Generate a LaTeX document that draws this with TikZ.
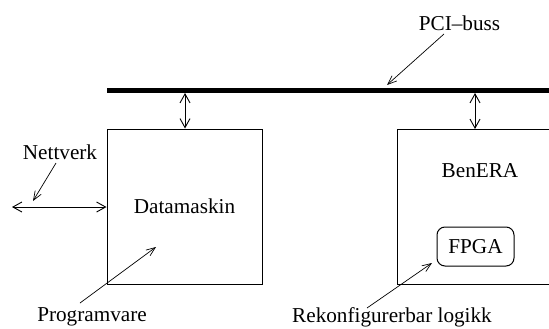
\documentclass[tikz,border=0pt]{standalone}
\usepackage{fontspec}
\setmainfont{Liberation Serif}
\usetikzlibrary{arrows.meta}
\begin{document}
\begin{tikzpicture}[x=1pt,y=-1pt,
  lbl/.style={inner sep=0pt, font=\fontsize{21.2}{24}\selectfont},
  boxline/.style={line width=1pt},
  dbl/.style={line width=0.9pt, {Straight Barb[length=9pt,width=10pt]}-{Straight Barb[length=9pt,width=10pt]}},
  ptr/.style={line width=0.7pt, -{Straight Barb[length=9pt,width=7pt]}},
  bus/.style={line width=5pt}]
\useasboundingbox (0,0) rectangle (549,329);
% bus
\coordinate (busL) at (107,90.5);
\coordinate (busR) at (549,90.5);
\draw[bus] (busL) -- (busR);
% left box
\node[boxline, draw, minimum width=155pt, minimum height=155pt, lbl, inner sep=0pt] (dm) at (184.5,206.5) {Datamaskin};
% right box (runs off the right edge)
\coordinate (rbTR) at (549,129);
\coordinate (rbTL) at (397,129);
\coordinate (rbBL) at (397,284);
\coordinate (rbBR) at (549,284);
\draw[boxline] (rbTR) -- (rbTL) -- (rbBL) -- (rbBR);
\node[lbl] (ben) at (480,171) {BenERA};
\node[draw, boxline, rounded corners=8pt, minimum width=77pt, minimum height=39pt, lbl] (fpga) at (475.5,246.5) {FPGA};
% bus connections
\coordinate (b1) at (185,93);
\coordinate (b2) at (475,93);
\coordinate (t2) at (475,129);
\draw[dbl] (b1) -- (dm.north -| b1);
\draw[dbl] (b2) -- (t2);
% network
\coordinate (netL) at (12,207);
\draw[dbl] (netL) -- (dm.west |- netL);
\node[lbl] (nett) at (60,152) {Nettverk};
\coordinate (nettip) at (33,201);
\draw[ptr] (56,163) -- (nettip);
% PCI label
\node[lbl] (pci) at (459.5,23) {PCI--buss};
\coordinate (pcitip) at (387,85);
\draw[ptr] (444,34) -- (pcitip);
% Programvare
\node[lbl] (prog) at (92,317) {Programvare};
\coordinate (progtip) at (156,247);
\draw[ptr] (80,303) -- (progtip);
% Rekonfigurerbar logikk
\node[lbl] (rek) at (392,317) {Rekonfigurerbar logikk};
\coordinate (rektip) at (432,263);
\draw[ptr] (367,308) -- (rektip);
\end{tikzpicture}
\end{document}
